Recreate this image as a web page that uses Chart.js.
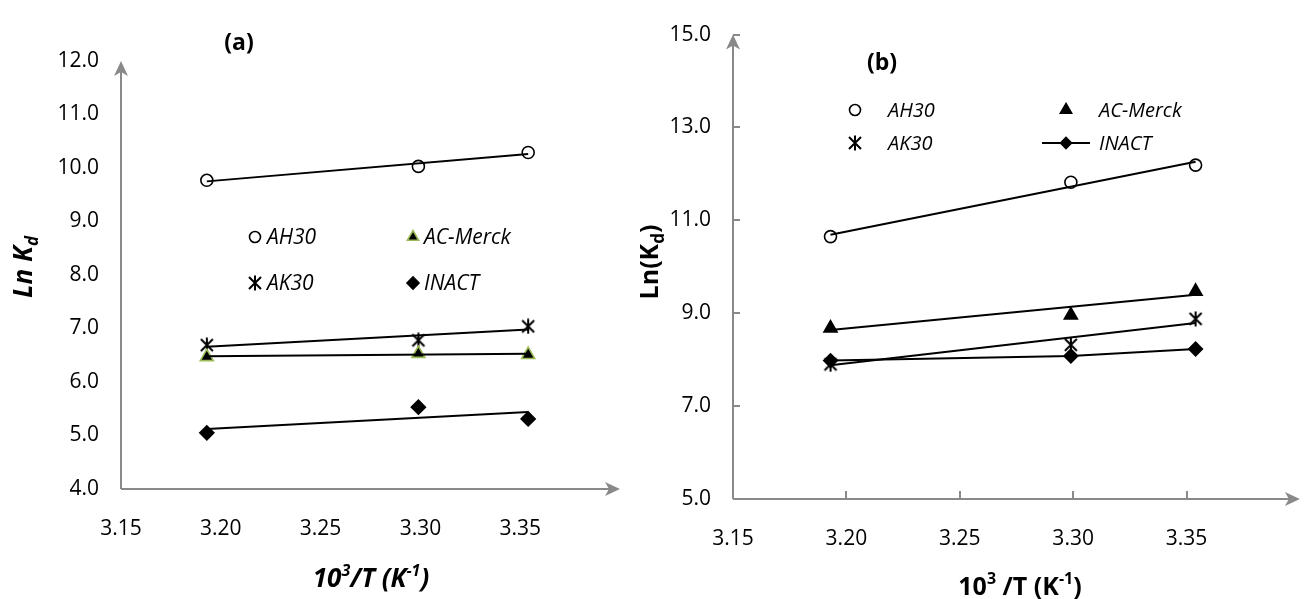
<!DOCTYPE html>
<html>
<head>
<meta charset="utf-8">
<script src="https://cdn.jsdelivr.net/npm/chart.js@4.4.1/dist/chart.umd.min.js"></script>
<style>
  html, body { margin: 0; padding: 0; background: #fff; }
  #wrapA { position: absolute; left: 0; top: 0; width: 640px; height: 599px; }
  #wrapB { position: absolute; left: 640px; top: 0; width: 669px; height: 599px; }
</style>
</head>
<body>
<div id="wrapA"><canvas id="chartA"></canvas></div>
<div id="wrapB"><canvas id="chartB"></canvas></div>
<script>
// ---- data ----
const seriesNames = ['AH30', 'AC-Merck', 'AK30', 'INACT'];
const invT = [3.193, 3.299, 3.354];      // 10^3/T
const trendX = [3.193, 3.354];           // trend lines run first -> last point
const xTicks = [3.15, 3.20, 3.25, 3.30, 3.35];
const yTicksA = [4, 5, 6, 7, 8, 9, 10, 11, 12];
const yTicksB = [5, 7, 9, 11, 13, 15];

// panel (a)  Ln Kd
const ah30A = [9.77, 10.03, 10.29];
const acMerckA = [6.47, 6.53, 6.51];
const ak30A = [6.69, 6.78, 7.04];
const inactA = [5.05, 5.53, 5.31];
const ah30TrendA = [9.75, 10.26];
const acMerckTrendA = [6.48, 6.53];
const ak30TrendA = [6.66, 6.98];
const inactTrendA = [5.12, 5.44];

// panel (b)  Ln(Kd)
const ah30B = [10.65, 11.82, 12.19];
const acMerckB = [8.68, 8.96, 9.47];
const ak30B = [7.90, 8.32, 8.88];
const inactB = [7.98, 8.08, 8.23];
const ah30TrendB = [10.69, 12.26];
const acMerckTrendB = [8.64, 9.40];
const ak30TrendB = [7.88, 8.79];

const FONT = "'Open Sans', 'Noto Sans', sans-serif";
const AXIS_GREY = '#898989';

// star marker: X with a vertical bar (like the spreadsheet "star")
function makeStar(size, lw) {
    const c = document.createElement('canvas');
    c.width = size; c.height = size;
    const g = c.getContext('2d');
    g.strokeStyle = '#000';
    g.lineWidth = lw;
    const a = 2, b = size - 2;
    g.beginPath();
    g.moveTo(a, a); g.lineTo(b, b);
    g.moveTo(b, a); g.lineTo(a, b);
    g.moveTo(size / 2, 0.5); g.lineTo(size / 2, size - 0.5);
    g.stroke();
    return c;
}
const starImg = makeStar(16, 2);

const pts = (xs, ys) => xs.map((x, i) => ({ x: x, y: ys[i] }));

function markerSet(label, ys, style, fill, edge, r) {
    return {
        label: label,
        data: pts(invT, ys),
        showLine: false,
        pointStyle: style,
        pointRadius: r,
        pointBackgroundColor: fill,
        pointBorderColor: edge,
        pointBorderWidth: 1.6,
        backgroundColor: fill,
        borderColor: edge
    };
}
function lineSet(xs, ys, withPoints) {
    return {
        label: '',
        data: pts(xs, ys),
        showLine: true,
        borderColor: '#000',
        borderWidth: 2,
        pointRadius: withPoints ? 6.5 : 0,
        pointStyle: 'rectRot',
        pointBackgroundColor: '#000',
        pointBorderColor: '#000',
        fill: false
    };
}

// draw a run of text pieces (for super/subscripts), centred on x, baseline y
function drawRich(ctx, parts, x, y) {
    let total = 0;
    parts.forEach(p => { ctx.font = p.f; p.w = ctx.measureText(p.t).width; total += p.w; });
    let cx = x - total / 2;
    ctx.textBaseline = 'alphabetic';
    ctx.textAlign = 'left';
    parts.forEach(p => {
        ctx.font = p.f;
        ctx.fillText(p.t, cx, y + (p.dy || 0));
        cx += p.w;
    });
}

function arrowHead(ctx, x, y, dir) {
    // dir: 'up' or 'right'
    ctx.beginPath();
    if (dir === 'up') {
        ctx.moveTo(x, y);
        ctx.lineTo(x - 7, y + 15);
        ctx.lineTo(x, y + 11);
        ctx.lineTo(x + 7, y + 15);
    } else {
        ctx.moveTo(x, y);
        ctx.lineTo(x - 15, y - 7);
        ctx.lineTo(x - 11, y);
        ctx.lineTo(x - 15, y + 7);
    }
    ctx.closePath();
    ctx.fill();
}

function decorPlugin(cfg) {
    return {
        id: 'decor',
        afterDraw(chart) {
            const ctx = chart.ctx;
            const { left, right, top, bottom } = chart.chartArea;
            const xs = chart.scales.x, ys = chart.scales.y;
            ctx.save();
            // axes with arrows
            ctx.strokeStyle = AXIS_GREY;
            ctx.fillStyle = AXIS_GREY;
            ctx.lineWidth = 2;
            ctx.beginPath();
            ctx.moveTo(left, bottom); ctx.lineTo(left, top + 6);
            ctx.moveTo(left, bottom); ctx.lineTo(right - 6, bottom);
            ctx.stroke();
            arrowHead(ctx, left, top, 'up');
            arrowHead(ctx, right, bottom, 'right');
            if (cfg.innerTicks) {
                ctx.beginPath();
                cfg.yTicks.slice(1).forEach(v => {
                    const py = Math.round(ys.getPixelForValue(v));
                    ctx.moveTo(left, py); ctx.lineTo(left + 7, py);
                });
                cfg.xTicks.slice(1).forEach(v => {
                    const px = Math.round(xs.getPixelForValue(v));
                    ctx.moveTo(px, bottom); ctx.lineTo(px, bottom - 8);
                });
                ctx.stroke();
            }

            ctx.fillStyle = '#000';
            // panel label
            ctx.font = 'bold 23px ' + FONT;
            ctx.textAlign = 'center';
            ctx.textBaseline = 'alphabetic';
            ctx.fillText(cfg.panel.text, cfg.panel.x, cfg.panel.y);

            // axis titles
            drawRich(ctx, cfg.xTitle.parts, cfg.xTitle.x, cfg.xTitle.y);
            ctx.save();
            ctx.translate(cfg.yTitle.x, cfg.yTitle.y);
            ctx.rotate(-Math.PI / 2);
            drawRich(ctx, cfg.yTitle.parts, 0, 0);
            ctx.restore();

            // legend
            cfg.legend.forEach(item => {
                const ds = chart.data.datasets[item.ds];
                ctx.save();
                if (item.line) {
                    ctx.strokeStyle = '#000';
                    ctx.lineWidth = 2;
                    ctx.beginPath();
                    ctx.moveTo(item.x - 24, item.y); ctx.lineTo(item.x + 24, item.y);
                    ctx.stroke();
                }
                ctx.fillStyle = ds.pointBackgroundColor;
                ctx.strokeStyle = ds.pointBorderColor;
                ctx.lineWidth = ds.pointBorderWidth || 1.6;
                Chart.helpers.drawPoint(ctx, {
                    pointStyle: ds.pointStyle, radius: item.r, rotation: 0,
                    borderWidth: ds.pointBorderWidth || 1.6
                }, item.x, item.y);
                ctx.restore();
                ctx.fillStyle = '#000';
                ctx.font = 'italic ' + cfg.legendSize + 'px ' + FONT;
                ctx.textAlign = 'left';
                ctx.textBaseline = 'middle';
                ctx.fillText(seriesNames[item.name], item.tx, item.y + 1);
            });
            ctx.restore();
        }
    };
}

function makeChart(id, datasets, opt) {
    return new Chart(document.getElementById(id), {
        type: 'scatter',
        data: { datasets: datasets },
        options: {
            responsive: true,
            maintainAspectRatio: false,
            animation: false,
            events: [],
            layout: { padding: { left: 0, top: opt.top, right: opt.right, bottom: 0 } },
            plugins: { legend: { display: false }, tooltip: { enabled: false } },
            scales: {
                x: {
                    type: 'linear', min: 3.15, max: 3.40,
                    grid: { display: false, drawTicks: false },
                    border: { display: false },
                    afterBuildTicks: s => { s.ticks = xTicks.map(v => ({ value: v })); },
                    afterFit: s => { s.height = opt.xHeight; },
                    ticks: {
                        padding: opt.xPad, color: '#000',
                        font: { family: FONT, size: 21 },
                        callback: v => v.toFixed(2)
                    }
                },
                y: {
                    type: 'linear', min: opt.yMin, max: opt.yMax,
                    grid: { display: false, drawTicks: false },
                    border: { display: false },
                    afterBuildTicks: s => { s.ticks = opt.yTicks.map(v => ({ value: v })); },
                    afterFit: s => { s.width = opt.yWidth; },
                    ticks: {
                        padding: opt.yPad, color: '#000',
                        font: { family: FONT, size: 21 },
                        callback: v => v.toFixed(1)
                    }
                }
            }
        },
        plugins: [decorPlugin(opt.decor)]
    });
}

// ---------- panel (a) ----------
const dsA = [
    lineSet(trendX, ah30TrendA),
    lineSet(trendX, acMerckTrendA),
    lineSet(trendX, ak30TrendA),
    lineSet(trendX, inactTrendA),
    markerSet('AH30', ah30A, 'circle', 'rgba(0,0,0,0)', '#000', 6),
    markerSet('AC-Merck', acMerckA, 'triangle', '#000', '#9BBB59', 7.5),
    markerSet('AK30', ak30A, starImg, '#000', '#000', 7),
    markerSet('INACT', inactA, 'rectRot', '#000', '#000', 7)
];
const mainA = 'italic bold 26px ' + FONT, supA = 'italic bold 16px ' + FONT;
makeChart('chartA', dsA, {
    top: 61, right: 20, xHeight: 110, yWidth: 121, xPad: 27, yPad: 22,
    yMin: 4, yMax: 12, yTicks: yTicksA,
    decor: {
        innerTicks: false,
        panel: { text: '(a)', x: 239, y: 50 },
        xTitle: { x: 371, y: 587, parts: [
            { t: '10', f: mainA }, { t: '3', f: supA, dy: -11 },
            { t: '/T (K', f: mainA }, { t: '-1', f: supA, dy: -11 }, { t: ')', f: mainA }] },
        yTitle: { x: 32, y: 267, parts: [
            { t: 'Ln K', f: mainA }, { t: 'd', f: 'italic bold 17px ' + FONT, dy: 6 }] },
        legendSize: 21,
        legend: [
            { ds: 4, name: 0, x: 255, tx: 267, y: 237, r: 5.5 },
            { ds: 5, name: 1, x: 413, tx: 424, y: 237, r: 6.5 },
            { ds: 6, name: 2, x: 255, tx: 267, y: 283, r: 6 },
            { ds: 7, name: 3, x: 413, tx: 424, y: 283, r: 6 }
        ]
    }
});

// ---------- panel (b) ----------
const dsB = [
    lineSet(trendX, ah30TrendB),
    lineSet(trendX, acMerckTrendB),
    lineSet(trendX, ak30TrendB),
    lineSet(invT, inactB, true),
    markerSet('AH30', ah30B, 'circle', 'rgba(0,0,0,0)', '#000', 6),
    markerSet('AC-Merck', acMerckB, 'triangle', '#000', '#000', 7.5),
    markerSet('AK30', ak30B, starImg, '#000', '#000', 7)
];
const mainB = 'bold 25px ' + FONT, supB = 'bold 16px ' + FONT;
makeChart('chartB', dsB, {
    top: 23, right: 2, xHeight: 100, yWidth: 93, xPad: 27, yPad: 22,
    yMin: 5, yMax: 15, yTicks: yTicksB,
    decor: {
        innerTicks: true, xTicks: xTicks, yTicks: yTicksB,
        panel: { text: '(b)', x: 242, y: 70 },
        xTitle: { x: 380, y: 595, parts: [
            { t: '10', f: mainB }, { t: '3', f: supB, dy: -11 },
            { t: ' /T (K', f: mainB }, { t: '-1', f: supB, dy: -11 }, { t: ')', f: mainB }] },
        yTitle: { x: 18, y: 262, parts: [
            { t: 'Ln(K', f: mainB }, { t: 'd', f: 'bold 17px ' + FONT, dy: 6 }, { t: ')', f: mainB }] },
        legendSize: 20,
        legend: [
            { ds: 4, name: 0, x: 215, tx: 248, y: 110, r: 5.5 },
            { ds: 5, name: 1, x: 426, tx: 459, y: 110, r: 6.5 },
            { ds: 6, name: 2, x: 215, tx: 248, y: 143, r: 6 },
            { ds: 3, name: 3, x: 426, tx: 459, y: 143, r: 5.5, line: true }
        ]
    }
});
</script>
</body>
</html>
